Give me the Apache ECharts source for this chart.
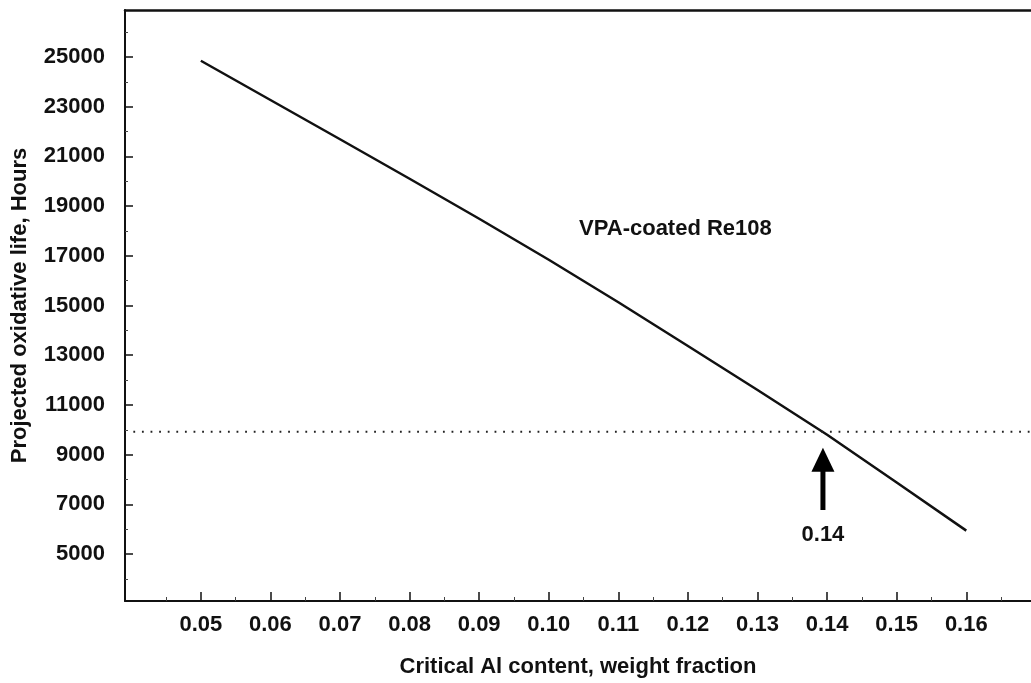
<!DOCTYPE html>
<html>
<head>
<meta charset="utf-8">
<script src="https://cdn.jsdelivr.net/npm/echarts@6/dist/echarts.min.js"></script>
<style>
  html, body { margin: 0; padding: 0; background: #fff; }
  #chart { width: 1031px; height: 683px; }
</style>
</head>
<body>
<div id="chart"></div>
<script>
// critical Al content (weight fraction) vs projected life (hours)
var alContent = [0.05, 0.06, 0.07, 0.08, 0.09, 0.10, 0.11, 0.12, 0.13, 0.14, 0.15, 0.16]
var lifeHours = [24850, 23270, 21690, 20100, 18490, 16840, 15130, 13370, 11600, 9800, 7880, 5940]

// tick labels
var xTicks = [0.05, 0.06, 0.07, 0.08, 0.09, 0.10, 0.11, 0.12, 0.13, 0.14, 0.15, 0.16]
var xMinorTicks = [0.045, 0.055, 0.065, 0.075, 0.085, 0.095, 0.105, 0.115, 0.125, 0.135, 0.145, 0.155, 0.165]
var yTicks = [5000, 7000, 9000, 11000, 13000, 15000, 17000, 19000, 21000, 23000, 25000]
var yMinorTicks = [4000, 6000, 8000, 10000, 12000, 14000, 16000, 18000, 20000, 22000, 24000, 26000]

// annotations
var thresholdLife = 9920
var arrowAt = 0.1394
var arrowFrom = 6770
var arrowHead = 8790
var arrowLabel = '0.14'
var curveLabel = 'VPA-coated Re108'
var curveLabelAt = [0.1182, 18080]

var xMin = 0.0391, xMax = 0.1693
var yMin = 3109, yMax = 26891

var font = '"Liberation Sans", Arial, Helvetica, sans-serif'
var ink = '#111'

var pairs = alContent.map(function (x, i) { return [x, lifeHours[i]] })

var chart = echarts.init(document.getElementById('chart'))
chart.setOption({
  animation: false,
  grid: { left: 125, right: 0, top: 10, bottom: 82 },
  xAxis: [
    {
      type: 'value', min: xMin, max: xMax, position: 'bottom',
      name: 'Critical Al content, weight fraction',
      nameLocation: 'middle', nameGap: 55,
      nameTextStyle: { fontFamily: font, fontSize: 22, fontWeight: 'bold', color: ink },
      axisLine: { show: true, lineStyle: { color: ink, width: 2 } },
      axisTick: { show: true, inside: true, length: 9, customValues: xTicks, lineStyle: { color: ink, width: 1.5 } },
      axisLabel: {
        customValues: xTicks, margin: 13,
        fontFamily: font, fontSize: 22, fontWeight: 'bold', color: ink,
        formatter: function (v) { return v.toFixed(2) }
      },
      splitLine: { show: false }
    },
    {
      type: 'value', min: xMin, max: xMax, position: 'bottom',
      axisLine: { show: false },
      axisTick: { show: true, inside: true, length: 4, customValues: xMinorTicks, lineStyle: { color: '#444', width: 1 } },
      axisLabel: { show: false },
      splitLine: { show: false }
    },
    {
      type: 'value', min: xMin, max: xMax, position: 'top',
      axisLine: { show: true, lineStyle: { color: ink, width: 2.5 } },
      axisTick: { show: false },
      axisLabel: { show: false },
      splitLine: { show: false }
    }
  ],
  yAxis: [
    {
      type: 'value', min: yMin, max: yMax, position: 'left',
      name: 'Projected oxidative life, Hours',
      nameLocation: 'middle', nameGap: 94,
      nameTextStyle: { fontFamily: font, fontSize: 22, fontWeight: 'bold', color: ink },
      axisLine: { show: true, lineStyle: { color: ink, width: 2 } },
      axisTick: { show: true, inside: true, length: 8, customValues: yTicks, lineStyle: { color: ink, width: 1.5 } },
      axisLabel: {
        customValues: yTicks, margin: 20,
        fontFamily: font, fontSize: 22, fontWeight: 'bold', color: ink,
        formatter: function (v) { return String(v) }
      },
      splitLine: { show: false }
    },
    {
      type: 'value', min: yMin, max: yMax, position: 'left',
      axisLine: { show: false },
      axisTick: { show: true, inside: true, length: 3, customValues: yMinorTicks, lineStyle: { color: '#444', width: 1 } },
      axisLabel: { show: false },
      splitLine: { show: false }
    }
  ],
  series: [
    {
      name: curveLabel,
      type: 'line',
      data: pairs,
      symbol: 'none',
      lineStyle: { color: ink, width: 2.5 }
    },
    {
      // dotted threshold
      type: 'line',
      data: [[0.0403, thresholdLife], [xMax, thresholdLife]],
      symbol: 'none',
      lineStyle: { color: '#222', width: 1.8, type: [1.8, 6.8] }
    },
    {
      // arrow shaft
      type: 'line',
      data: [[arrowAt, arrowFrom], [arrowAt, arrowHead]],
      symbol: 'none',
      lineStyle: { color: '#000', width: 5 }
    },
    {
      // arrow head
      type: 'scatter',
      data: [[arrowAt, arrowHead]],
      symbol: 'triangle',
      symbolSize: [23, 24],
      itemStyle: { color: '#000', opacity: 1 }
    },
    {
      // text labels
      type: 'scatter',
      symbolSize: 0,
      itemStyle: { opacity: 1 },
      data: [
        { value: [arrowAt, 5765], name: arrowLabel },
        { value: curveLabelAt, name: curveLabel }
      ],
      label: {
        show: true, position: 'inside',
        formatter: function (p) { return p.name },
        fontFamily: font, fontSize: 22, fontWeight: 'bold', color: ink
      }
    }
  ]
})
window.onresize = chart.resize
</script>
</body>
</html>
